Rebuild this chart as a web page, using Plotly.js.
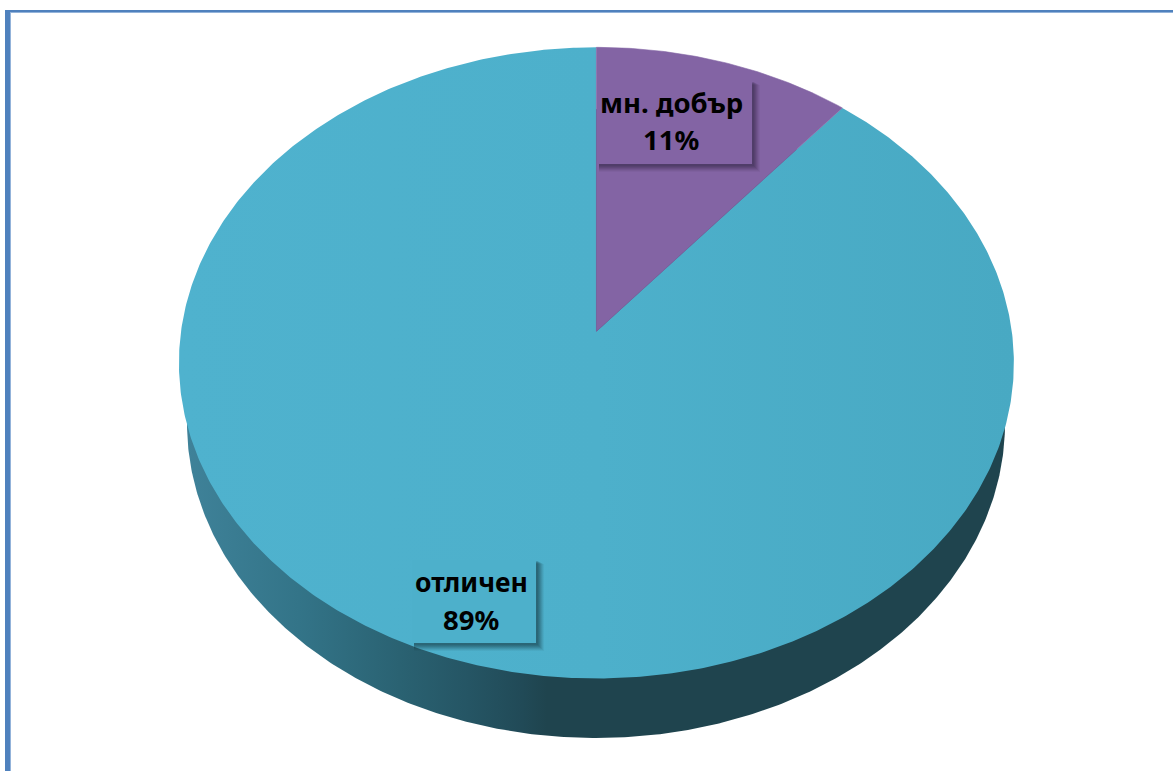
<!DOCTYPE html>
<html><head><meta charset="utf-8">
<script src="https://cdn.plot.ly/plotly-3.0.1.min.js"></script>
<style>html,body{margin:0;padding:0;background:#fff}#c{width:1173px;height:771px}</style>
</head><body><div id="c"></div><script>
const categories = ['мн. добър', 'отличен'];
const values = [11, 89];
const percentLabels = ['11%', '89%'];
const sliceColors = ['#8364a4', null];
const topGradient = [[0,'#4fb2ce'],[0.5,'#4db0cb'],[1,'#48a9c3']];
const wallGradient = [[0,'#3f8299'],[0.137,'#337488'],[0.26,'#2a6272'],[0.345,'#255564'],[0.41,'#214a57'],[0.44,'#1f444e'],[1,'#1f444e']];

const apexX = 596.4, apexY = 331.4, radX = 415.4, radY = 312.4, persp = 0.0998;
const wall = {cx:596, cy:423.5, rx:409, ry:314.5};

function project(X, Y){
  const d = 1 + persp*Y;
  return [apexX + radX*X/d, apexY - radY*Y/d];
}
function wedge(from, to){
  const xs=[apexX], ys=[apexY];
  const n = Math.max(2, Math.ceil((to-from)*720));
  for(let i=0;i<=n;i++){
    const t = 2*Math.PI*(from+(to-from)*i/n);
    const p = project(Math.sin(t), Math.cos(t));
    xs.push(p[0]); ys.push(p[1]);
  }
  xs.push(apexX); ys.push(apexY);
  return [xs,ys];
}
const total = values.reduce((a,b)=>a+b,0);
const traces = [];
// side wall
const wx=[], wy=[];
for(let i=0;i<=720;i++){
  const t=2*Math.PI*i/720;
  wx.push(wall.cx+wall.rx*Math.sin(t)); wy.push(wall.cy+wall.ry*Math.cos(t));
}
traces.push({type:'scatter',mode:'lines',x:wx,y:wy,fill:'toself',line:{width:0},
  fillgradient:{type:'horizontal',colorscale:wallGradient},hoverinfo:'skip',showlegend:false});
// top faces
let cum=0;
const faces=[];
values.forEach((v,i)=>{
  const w = wedge(cum/total,(cum+v)/total); cum+=v;
  const tr = {type:'scatter',mode:'lines',x:w[0],y:w[1],fill:'toself',
    name:categories[i],showlegend:false};
  if(sliceColors[i]){ tr.fillcolor=sliceColors[i]; tr.line={width:0.6,color:sliceColors[i]}; }
  else { tr.fillgradient={type:'horizontal',colorscale:topGradient}; tr.line={width:0}; }
  faces.push(tr);
});
traces.push(...faces.reverse());

function box(x0,y0,x1,y1,fill,shadow){
  const s=[];
  [[8,0.06],[7,0.08],[6,0.10],[5,0.12],[4,0.14],[3,0.14],[2,0.14]].forEach(([o,a])=>{
    s.push({type:'rect',xref:'x',yref:'y',x0:x0+2,y0:y0+o/2,x1:x1+o,y1:y1+o,
      fillcolor:shadow,opacity:a,line:{width:0}});
  });
  s.push({type:'rect',xref:'x',yref:'y',x0:x0,y0:y0,x1:x1,y1:y1,fillcolor:fill,line:{width:0}});
  return s;
}
const shapes = [
  ...box(597,81,752,164,'#8364a4','#2e2040'),
  ...box(412,560,536,643,'#4db0cb','#143038'),
  {type:'rect',xref:'x',yref:'y',x0:10,y0:13,x1:11,y1:771,fillcolor:'#93b3da',line:{width:0}},
  {type:'rect',xref:'x',yref:'y',x0:10,y0:12,x1:1173,y1:13,fillcolor:'#93b3da',line:{width:0}},
  {type:'rect',xref:'x',yref:'y',x0:5,y0:10,x1:10,y1:771,fillcolor:'#4f81bd',line:{width:0}},
  {type:'rect',xref:'x',yref:'y',x0:5,y0:10,x1:1173,y1:12,fillcolor:'#4f81bd',line:{width:0}}
];
function label(txt,x,y,size){
  return {xref:'x',yref:'y',x:x,y:y,text:'<b>'+txt+'</b>',showarrow:false,
    font:{family:'"Noto Sans", "Open Sans", sans-serif',size:size,color:'#000'},xanchor:'center',yanchor:'middle'};
}
const annotations=[
  label(categories[0],671.5,102.5,27.5),label(percentLabels[0],671,139.5,27.5),
  label(categories[1],471.5,581.5,26.5),label(percentLabels[1],471,619.5,27.5)
];
const ax={visible:false,fixedrange:true,showgrid:false,zeroline:false};
Plotly.newPlot('c',traces,{
  width:1173,height:771,margin:{l:0,r:0,t:0,b:0,pad:0},
  paper_bgcolor:'#fff',plot_bgcolor:'#fff',showlegend:false,
  xaxis:{...ax,range:[0,1173]},yaxis:{...ax,range:[771,0]},
  shapes:shapes,annotations:annotations,hovermode:'closest'
},{displayModeBar:false});
</script></body></html>
